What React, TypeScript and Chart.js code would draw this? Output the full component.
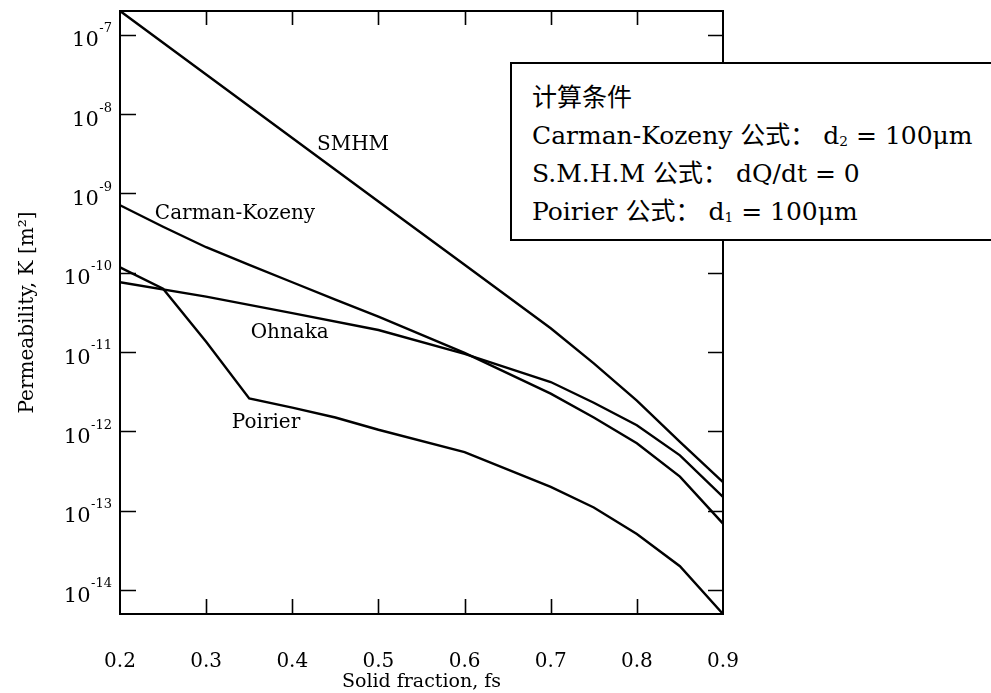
import React, { useEffect, useRef } from "react";
import { Chart, registerables } from "chart.js";

Chart.register(...registerables);

// ---- data ----
const smhmFs = [0.2, 0.3, 0.4, 0.5, 0.6, 0.7, 0.75, 0.8, 0.85, 0.9];
const smhmK = [2.0e-7, 3.16e-8, 5.0e-9, 7.9e-10, 1.26e-10, 2.0e-11, 7.2e-12, 2.45e-12, 7.4e-13, 2.3e-13];

const carmanFs = [0.2, 0.25, 0.3, 0.35, 0.4, 0.45, 0.5, 0.6, 0.7, 0.75, 0.8, 0.85, 0.9];
const carmanK = [7.1e-10, 3.8e-10, 2.1e-10, 1.26e-10, 7.6e-11, 4.6e-11, 2.8e-11, 9.8e-12, 3.0e-12, 1.5e-12, 7.1e-13, 2.7e-13, 6.9e-14];

const ohnakaFs = [0.2, 0.3, 0.4, 0.5, 0.6, 0.7, 0.75, 0.8, 0.85, 0.9];
const ohnakaK = [7.6e-11, 5.0e-11, 3.1e-11, 1.9e-11, 9.5e-12, 4.2e-12, 2.3e-12, 1.2e-12, 5.0e-13, 1.5e-13];

const poirierFs = [0.2, 0.25, 0.3, 0.35, 0.4, 0.45, 0.5, 0.6, 0.7, 0.75, 0.8, 0.85, 0.9];
const poirierK = [1.17e-10, 6.3e-11, 1.35e-11, 2.6e-12, 2.0e-12, 1.5e-12, 1.05e-12, 5.5e-13, 2.0e-13, 1.1e-13, 5.1e-14, 2.0e-14, 5.0e-15];

const seriesNames = ["SMHM", "Carman-Kozeny", "Ohnaka", "Poirier"];

const xTickValues = [0.2, 0.3, 0.4, 0.5, 0.6, 0.7, 0.8, 0.9];
const yTickExponents = [-7, -8, -9, -10, -11, -12, -13, -14];

// curve label anchors (data coordinates)
const curveLabelFs = [0.4705, 0.3335, 0.397, 0.3695];
const curveLabelK = [4.07e-9, 5.5e-10, 1.74e-11, 1.3e-12];

const SERIF = "'DejaVu Serif', 'Liberation Serif', serif";

function zip(xs: number[], ys: number[]) {
  return xs.map((x, i) => ({ x, y: ys[i] }));
}

const framePlugin = {
  id: "framePlugin",
  afterDatasetsDraw(chart: any) {
    const { ctx, chartArea } = chart;
    const xs = chart.scales.x;
    const ys = chart.scales.y;
    const { left, right, top, bottom } = chartArea;
    ctx.save();
    ctx.strokeStyle = "#000";
    ctx.lineWidth = 2;
    ctx.strokeRect(left, top, right - left, bottom - top);
    // inward ticks
    ctx.lineWidth = 1.6;
    ctx.beginPath();
    yTickExponents.forEach((e) => {
      const py = Math.round(ys.getPixelForValue(Math.pow(10, e))) + 0.5;
      ctx.moveTo(left, py);
      ctx.lineTo(left + 16, py);
      ctx.moveTo(right, py);
      ctx.lineTo(right - 15, py);
    });
    xTickValues.slice(1, -1).forEach((v) => {
      const px = Math.round(xs.getPixelForValue(v)) + 0.5;
      ctx.moveTo(px, bottom);
      ctx.lineTo(px, bottom - 15);
      ctx.moveTo(px, top);
      ctx.lineTo(px, top + 14);
    });
    ctx.stroke();

    // y tick labels 10^e
    ctx.fillStyle = "#000";
    ctx.textAlign = "right";
    ctx.textBaseline = "middle";
    yTickExponents.forEach((e) => {
      const py = ys.getPixelForValue(Math.pow(10, e));
      const expText = "-" + Math.abs(e);
      ctx.font = `13px ${SERIF}`;
      const w = ctx.measureText(expText).width;
      const rx = 112;
      ctx.fillText(expText, rx, py - 6);
      ctx.font = `21px ${SERIF}`;
      ctx.fillText("10", rx - w - 0.5, py + 6);
    });

    // curve labels
    ctx.textAlign = "center";
    ctx.font = `20px ${SERIF}`;
    seriesNames.forEach((name, i) => {
      const px = xs.getPixelForValue(curveLabelFs[i]);
      const py = ys.getPixelForValue(curveLabelK[i]);
      ctx.fillText(name, px, py);
    });
    ctx.restore();
  },
};

export default function App() {
  const canvasRef = useRef<HTMLCanvasElement | null>(null);

  useEffect(() => {
    const canvas = canvasRef.current;
    if (!canvas) return;
    const lineStyle = {
      borderColor: "#000",
      borderWidth: 2.4,
      pointRadius: 0,
      fill: false,
      tension: 0,
    };
    const chart = new Chart(canvas, {
      type: "line",
      data: {
        datasets: [
          { label: seriesNames[0], data: zip(smhmFs, smhmK), ...lineStyle },
          { label: seriesNames[1], data: zip(carmanFs, carmanK), ...lineStyle },
          { label: seriesNames[2], data: zip(ohnakaFs, ohnakaK), ...lineStyle },
          { label: seriesNames[3], data: zip(poirierFs, poirierK), ...lineStyle },
        ],
      },
      options: {
        animation: false,
        responsive: true,
        maintainAspectRatio: false,
        layout: { padding: { left: 0, right: 268, top: 11, bottom: 0 } },
        plugins: {
          legend: { display: false },
          tooltip: { enabled: false },
        },
        scales: {
          x: {
            type: "linear",
            min: 0.2,
            max: 0.9,
            afterBuildTicks: (s: any) => {
              s.ticks = xTickValues.map((v) => ({ value: v }));
            },
            afterFit: (s: any) => {
              s.height = 79;
            },
            grid: { display: false, drawTicks: false },
            border: { display: false },
            ticks: {
              color: "#000",
              font: { family: SERIF, size: 20 },
              padding: 36,
              maxRotation: 0,
              autoSkip: false,
              callback: (v: any) => Number(v).toFixed(1),
            },
            title: {
              display: true,
              text: "Solid fraction, fs",
              color: "#000",
              font: { family: SERIF, size: 19 },
              padding: { top: 0, bottom: 0 },
            },
          },
          y: {
            type: "logarithmic",
            min: 5.0e-15,
            max: 1.995e-7,
            afterBuildTicks: (s: any) => {
              s.ticks = yTickExponents.map((e) => ({ value: Math.pow(10, e) }));
            },
            afterFit: (s: any) => {
              s.width = 120;
            },
            grid: { display: false, drawTicks: false },
            border: { display: false },
            ticks: { display: false },
            title: {
              display: true,
              text: "Permeability, K [m²]",
              color: "#000",
              font: { family: SERIF, size: 20 },
              padding: { top: 16, bottom: 0 },
            },
          },
        },
      },
      plugins: [framePlugin],
    });
    return () => chart.destroy();
  }, []);

  const boxFont = "'DejaVu Serif', 'Noto Sans CJK SC', serif";
  const subStyle: React.CSSProperties = { fontSize: "0.55em", verticalAlign: "-0.15em", lineHeight: 0 };

  return (
    <div
      style={{
        position: "absolute",
        left: 0,
        top: 0,
        width: 991,
        height: 693,
        overflow: "hidden",
        background: "#fff",
      }}
    >
      <div style={{ position: "absolute", left: 0, top: 0, width: 991, height: 693 }}>
        <canvas ref={canvasRef} />
      </div>
      <div
        style={{
          position: "absolute",
          left: 510,
          top: 62,
          width: 520,
          height: 179,
          boxSizing: "border-box",
          border: "2px solid #000",
          background: "#fff",
          paddingLeft: 20,
          paddingTop: 15,
          fontFamily: boxFont,
          fontSize: 25,
          lineHeight: "38px",
          color: "#000",
          whiteSpace: "nowrap",
        }}
      >
        <div style={{ height: 38 }}>计算条件</div>
        <div style={{ height: 38 }}>
          Carman-Kozeny 公式： d<span style={subStyle}>2</span> = 100μm
        </div>
        <div style={{ height: 38 }}>S.M.H.M 公式： dQ/dt = 0</div>
        <div style={{ height: 38 }}>
          Poirier 公式： d<span style={subStyle}>1</span> = 100μm
        </div>
      </div>
    </div>
  );
}
